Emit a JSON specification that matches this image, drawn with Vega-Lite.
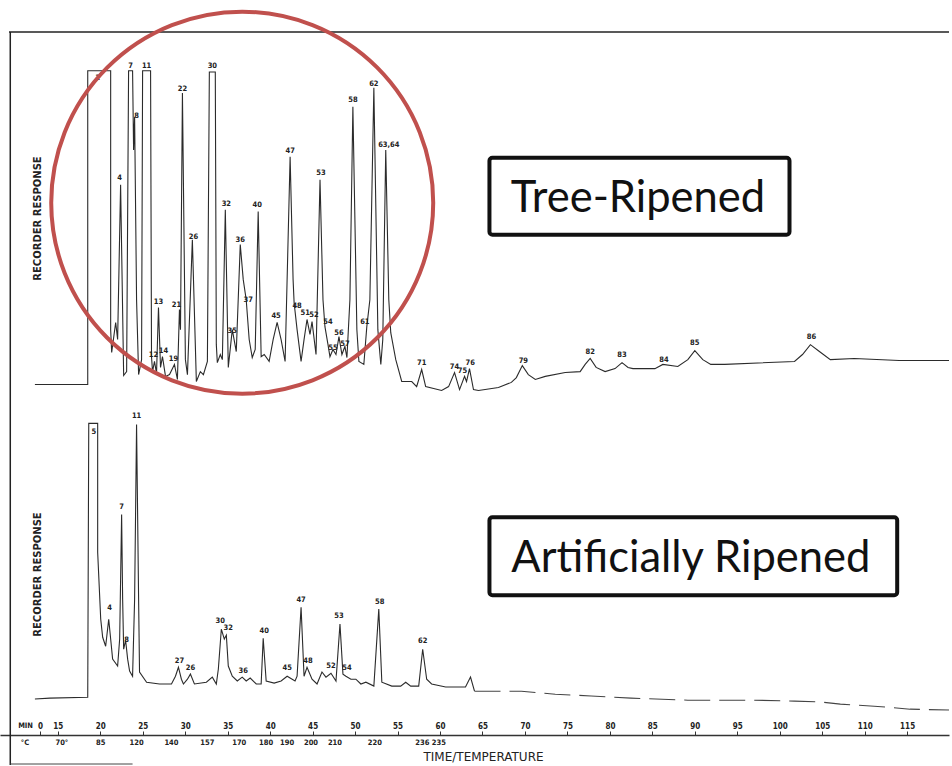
{
  "$schema": "https://vega.github.io/schema/vega-lite/v6.json",
  "width": 952,
  "height": 766,
  "autosize": {"type": "fit", "contains": "padding"},
  "padding": 0,
  "background": "white",
  "config": {
    "view": {"stroke": null},
    "axis": {"grid": false}
  },
  "datasets": {
    "one": [{}],
    "top": [
      {"t": 12.30, "v": 0}, {"t": 18.52, "v": 0}, {"t": 18.52, "v": 104.7}, {"t": 21.22, "v": 104.7},
      {"t": 21.22, "v": 18.3}, {"t": 21.34, "v": 10.7}, {"t": 21.81, "v": 20.7}, {"t": 22.04, "v": 15},
      {"t": 22.39, "v": 66.7}, {"t": 22.75, "v": 3}, {"t": 23.10, "v": 4.3}, {"t": 23.33, "v": 104.7},
      {"t": 23.80, "v": 104.7}, {"t": 23.92, "v": 78.3}, {"t": 24.04, "v": 89.3}, {"t": 24.27, "v": 28.3},
      {"t": 24.51, "v": 3.3}, {"t": 24.86, "v": 8.3}, {"t": 24.98, "v": 104.7}, {"t": 25.92, "v": 104.7},
      {"t": 26.03, "v": 9.3}, {"t": 26.15, "v": 4.3}, {"t": 26.38, "v": 7.7}, {"t": 26.62, "v": 3.7},
      {"t": 26.85, "v": 25.7}, {"t": 27.09, "v": 5.7}, {"t": 27.32, "v": 9.3}, {"t": 27.68, "v": 2.7},
      {"t": 28.15, "v": 3.3}, {"t": 28.73, "v": 6.7}, {"t": 29.08, "v": 1.7}, {"t": 29.32, "v": 25},
      {"t": 29.44, "v": 18.3}, {"t": 29.67, "v": 97.3}, {"t": 30.02, "v": 8.3}, {"t": 30.26, "v": 3.3},
      {"t": 30.84, "v": 48.3}, {"t": 31.31, "v": 1}, {"t": 31.78, "v": 4.3}, {"t": 32.14, "v": 3.3},
      {"t": 32.61, "v": 7.7}, {"t": 32.84, "v": 104.3}, {"t": 33.54, "v": 104.3}, {"t": 33.66, "v": 13.3},
      {"t": 33.78, "v": 7.3}, {"t": 34.13, "v": 10}, {"t": 34.37, "v": 8.3}, {"t": 34.72, "v": 58.3},
      {"t": 35.07, "v": 5.7}, {"t": 35.54, "v": 18.3}, {"t": 36.01, "v": 11}, {"t": 36.48, "v": 46.7},
      {"t": 36.83, "v": 35}, {"t": 37.18, "v": 28.3}, {"t": 37.53, "v": 15}, {"t": 37.89, "v": 9},
      {"t": 38.24, "v": 11.7}, {"t": 38.59, "v": 57.7}, {"t": 38.94, "v": 9.3}, {"t": 39.30, "v": 10},
      {"t": 39.88, "v": 7.7}, {"t": 40.35, "v": 15}, {"t": 40.82, "v": 20.7}, {"t": 41.29, "v": 15},
      {"t": 41.76, "v": 7.7}, {"t": 42.35, "v": 76}, {"t": 42.70, "v": 35}, {"t": 42.82, "v": 27.3},
      {"t": 43.17, "v": 18.3}, {"t": 43.64, "v": 7.7}, {"t": 43.99, "v": 15}, {"t": 44.34, "v": 21.7},
      {"t": 44.69, "v": 16.7}, {"t": 44.93, "v": 21}, {"t": 45.40, "v": 10}, {"t": 45.87, "v": 68.3},
      {"t": 46.22, "v": 28.3}, {"t": 46.45, "v": 19.3}, {"t": 46.81, "v": 13.3}, {"t": 47.04, "v": 9.3},
      {"t": 47.39, "v": 11.7}, {"t": 47.75, "v": 10}, {"t": 48.10, "v": 16}, {"t": 48.45, "v": 10},
      {"t": 48.80, "v": 12.7}, {"t": 49.04, "v": 9}, {"t": 49.39, "v": 28.3}, {"t": 49.74, "v": 92.7},
      {"t": 50.21, "v": 18.3}, {"t": 50.45, "v": 7.7}, {"t": 51.03, "v": 6.7}, {"t": 51.38, "v": 19.3},
      {"t": 51.74, "v": 28.3}, {"t": 52.21, "v": 99}, {"t": 52.68, "v": 18.3}, {"t": 53.03, "v": 6.7},
      {"t": 53.26, "v": 15}, {"t": 53.61, "v": 78.3}, {"t": 53.97, "v": 28.3}, {"t": 54.20, "v": 17.3},
      {"t": 54.79, "v": 8.3}, {"t": 55.49, "v": 1}, {"t": 56.67, "v": 1}, {"t": 57.25, "v": -0.7},
      {"t": 57.84, "v": 5}, {"t": 58.31, "v": -0.7}, {"t": 60.19, "v": -2}, {"t": 61.01, "v": -0.7},
      {"t": 61.71, "v": 4}, {"t": 62.30, "v": -1.7}, {"t": 62.89, "v": 2.7}, {"t": 63.12, "v": 1},
      {"t": 63.47, "v": 5.3}, {"t": 63.94, "v": -1.7}, {"t": 64.53, "v": -2}, {"t": 66.88, "v": -1},
      {"t": 68.40, "v": 0.7}, {"t": 68.99, "v": 2.3}, {"t": 69.69, "v": 6.3}, {"t": 70.40, "v": 3.3},
      {"t": 71.22, "v": 1.7}, {"t": 72.39, "v": 2.7}, {"t": 74.74, "v": 4}, {"t": 76.50, "v": 4.3},
      {"t": 77.09, "v": 6.7}, {"t": 77.68, "v": 8.7}, {"t": 78.38, "v": 5.7}, {"t": 79.44, "v": 4.3},
      {"t": 80.61, "v": 5.3}, {"t": 81.43, "v": 7.3}, {"t": 82.14, "v": 5.7}, {"t": 82.72, "v": 5.3},
      {"t": 85.30, "v": 5.3}, {"t": 86.24, "v": 6.7}, {"t": 88.00, "v": 6}, {"t": 89.18, "v": 8.3},
      {"t": 90.00, "v": 11.3}, {"t": 90.94, "v": 8.3}, {"t": 91.88, "v": 6.7}, {"t": 93.52, "v": 6.7},
      {"t": 101.74, "v": 7.7}, {"t": 102.68, "v": 10}, {"t": 103.61, "v": 13.3}, {"t": 104.67, "v": 11},
      {"t": 105.96, "v": 8.3}, {"t": 108.78, "v": 8.7}, {"t": 114.06, "v": 8}, {"t": 119.93, "v": 8}
    ],
    "topLabels": [
      {"lab": "1", "t": 19.69, "v": 102.3}, {"lab": "4", "t": 22.28, "v": 68.8}, {"lab": "7", "t": 23.57, "v": 106.3},
      {"lab": "8", "t": 24.27, "v": 89.7}, {"lab": "11", "t": 25.45, "v": 106.3}, {"lab": "12", "t": 26.27, "v": 9.7},
      {"lab": "13", "t": 26.85, "v": 27.7}, {"lab": "14", "t": 27.44, "v": 11.3}, {"lab": "19", "t": 28.61, "v": 8.6},
      {"lab": "21", "t": 28.97, "v": 26.6}, {"lab": "22", "t": 29.67, "v": 98.7}, {"lab": "26", "t": 30.96, "v": 49.3},
      {"lab": "30", "t": 33.19, "v": 106.3}, {"lab": "32", "t": 34.84, "v": 60.3}, {"lab": "35", "t": 35.54, "v": 17.7},
      {"lab": "36", "t": 36.48, "v": 48.3}, {"lab": "37", "t": 37.42, "v": 28.3}, {"lab": "40", "t": 38.47, "v": 60},
      {"lab": "45", "t": 40.70, "v": 22.7}, {"lab": "47", "t": 42.35, "v": 78}, {"lab": "48", "t": 43.17, "v": 26.3},
      {"lab": "51", "t": 44.13, "v": 23.7}, {"lab": "52", "t": 45.15, "v": 23.3}, {"lab": "53", "t": 45.99, "v": 70.7},
      {"lab": "54", "t": 46.81, "v": 20.7}, {"lab": "55", "t": 47.39, "v": 12.3}, {"lab": "56", "t": 48.10, "v": 17.3},
      {"lab": "57", "t": 48.80, "v": 13.6}, {"lab": "58", "t": 49.74, "v": 95}, {"lab": "61", "t": 51.15, "v": 21},
      {"lab": "62", "t": 52.21, "v": 100.3}, {"lab": "63,64", "t": 53.97, "v": 80}, {"lab": "71", "t": 57.84, "v": 7.3},
      {"lab": "74", "t": 61.70, "v": 5.7}, {"lab": "75", "t": 62.65, "v": 4.4}, {"lab": "76", "t": 63.55, "v": 7.3},
      {"lab": "79", "t": 69.81, "v": 8}, {"lab": "82", "t": 77.68, "v": 11}, {"lab": "83", "t": 81.43, "v": 9.7},
      {"lab": "84", "t": 86.36, "v": 8.3}, {"lab": "85", "t": 90.00, "v": 13.7}, {"lab": "86", "t": 103.73, "v": 15.7}
    ],
    "bottom": [
      {"t": 12.30, "v": -3.3}, {"t": 14.06, "v": -3}, {"t": 18.52, "v": -2.7}, {"t": 18.64, "v": 88.7},
      {"t": 19.69, "v": 88.7}, {"t": 19.69, "v": 45.7}, {"t": 20.05, "v": 23.3}, {"t": 20.28, "v": 17.3},
      {"t": 20.63, "v": 14.3}, {"t": 20.99, "v": 23.3}, {"t": 21.22, "v": 16.7}, {"t": 21.45, "v": 10},
      {"t": 22.04, "v": 7.7}, {"t": 22.28, "v": 16.7}, {"t": 22.51, "v": 58.3}, {"t": 22.63, "v": 30},
      {"t": 22.75, "v": 13.3}, {"t": 22.98, "v": 16.3}, {"t": 23.22, "v": 10}, {"t": 23.45, "v": 6},
      {"t": 23.80, "v": 4.3}, {"t": 24.04, "v": 30}, {"t": 24.27, "v": 88.3}, {"t": 24.51, "v": 30},
      {"t": 24.62, "v": 5.7}, {"t": 25.45, "v": 2.3}, {"t": 26.97, "v": 1.7}, {"t": 28.38, "v": 1.7},
      {"t": 28.85, "v": 4.3}, {"t": 29.20, "v": 7.3}, {"t": 29.55, "v": 3.3}, {"t": 29.79, "v": 1.7},
      {"t": 30.26, "v": 3.3}, {"t": 30.61, "v": 5}, {"t": 31.08, "v": 1.7}, {"t": 32.49, "v": 2.3},
      {"t": 33.19, "v": 4}, {"t": 33.66, "v": 1.7}, {"t": 33.90, "v": 6.7}, {"t": 34.25, "v": 20},
      {"t": 34.60, "v": 16.7}, {"t": 34.84, "v": 18}, {"t": 35.07, "v": 7.7}, {"t": 35.54, "v": 4.3},
      {"t": 36.13, "v": 2.7}, {"t": 36.71, "v": 4}, {"t": 37.18, "v": 2.7}, {"t": 37.65, "v": 3.7},
      {"t": 38.36, "v": 1.7}, {"t": 38.94, "v": 1.7}, {"t": 39.18, "v": 17}, {"t": 39.53, "v": 2.7},
      {"t": 40.47, "v": 2}, {"t": 41.29, "v": 2.7}, {"t": 42.00, "v": 4.3}, {"t": 42.93, "v": 2.7},
      {"t": 43.17, "v": 4.3}, {"t": 43.64, "v": 27.3}, {"t": 43.99, "v": 4.3}, {"t": 44.34, "v": 7.3},
      {"t": 44.93, "v": 3.3}, {"t": 45.52, "v": 1.7}, {"t": 46.10, "v": 5.7}, {"t": 46.57, "v": 4},
      {"t": 47.16, "v": 5.3}, {"t": 47.75, "v": 2.7}, {"t": 48.22, "v": 21.7}, {"t": 48.57, "v": 5},
      {"t": 48.92, "v": 4.3}, {"t": 49.51, "v": 3.3}, {"t": 50.09, "v": 3.3}, {"t": 50.68, "v": 1.7},
      {"t": 51.27, "v": 2.3}, {"t": 52.21, "v": 1}, {"t": 52.79, "v": 26.7}, {"t": 53.15, "v": 2.3},
      {"t": 54.32, "v": 1}, {"t": 55.37, "v": 1}, {"t": 55.96, "v": 2.3}, {"t": 56.55, "v": 1},
      {"t": 57.49, "v": 1}, {"t": 57.96, "v": 13.3}, {"t": 58.43, "v": 3.3}, {"t": 59.01, "v": 1.7},
      {"t": 60.66, "v": 0.7}, {"t": 63.00, "v": 0.7}, {"t": 63.59, "v": 4}, {"t": 64.06, "v": -0.7}
    ],
    "bottomTail": [
      {"t": 64.06, "v": -0.7}, {"t": 69.58, "v": -0.7}, {"t": 73.57, "v": -1.7}, {"t": 77.79, "v": -2.3},
      {"t": 82.49, "v": -3}, {"t": 89.18, "v": -3.7}, {"t": 97.04, "v": -3.7}, {"t": 101.74, "v": -4},
      {"t": 104.79, "v": -4.3}, {"t": 107.14, "v": -5}, {"t": 111.13, "v": -5.7}, {"t": 115.35, "v": -6.7},
      {"t": 119.93, "v": -7}
    ],
    "bottomLabels": [
      {"lab": "5", "t": 19.23, "v": 85.7}, {"lab": "4", "t": 21.10, "v": 27}, {"lab": "7", "t": 22.51, "v": 60.9},
      {"lab": "8", "t": 23.10, "v": 16.3}, {"lab": "11", "t": 24.27, "v": 91}, {"lab": "27", "t": 29.32, "v": 9.5},
      {"lab": "26", "t": 30.61, "v": 7}, {"lab": "30", "t": 34.13, "v": 22.7}, {"lab": "32", "t": 35.07, "v": 20.3},
      {"lab": "36", "t": 36.83, "v": 6}, {"lab": "40", "t": 39.30, "v": 19.3}, {"lab": "45", "t": 42.00, "v": 7},
      {"lab": "47", "t": 43.64, "v": 29.7}, {"lab": "48", "t": 44.46, "v": 9.5}, {"lab": "52", "t": 47.16, "v": 7.7},
      {"lab": "53", "t": 48.10, "v": 24.3}, {"lab": "54", "t": 49.04, "v": 7}, {"lab": "58", "t": 52.91, "v": 29},
      {"lab": "62", "t": 57.96, "v": 16}
    ],
    "temps": [
      {"lab": "70°", "t": 15.47}, {"lab": "85", "t": 20.05}, {"lab": "120", "t": 24.27}, {"lab": "140", "t": 28.38},
      {"lab": "157", "t": 32.61}, {"lab": "170", "t": 36.36}, {"lab": "180", "t": 39.53}, {"lab": "190", "t": 42.00},
      {"lab": "200", "t": 44.81}, {"lab": "210", "t": 47.63}, {"lab": "220", "t": 52.32}, {"lab": "236 235", "t": 58.89}
    ]
  },
  "resolve": {"scale": {"y": "independent"}, "axis": {"y": "independent"}},
  "layer": [
    {
      "data": {"name": "top"},
      "mark": {"type": "line", "color": "#2b2b2b", "strokeWidth": 1.1},
      "encoding": {
        "x": {
          "field": "t", "type": "quantitative",
          "scale": {"domain": [8.19, 119.93], "nice": false, "zero": false},
          "axis": {
            "orient": "top", "offset": -735, "title": null,
            "values": [12.89, 15, 20, 25, 30, 35, 40, 45, 50, 55, 60, 65, 70, 75, 80, 85, 90, 95, 100, 105, 110, 115],
            "labelExpr": "datum.value < 14 ? '0' : datum.label",
            "format": "d",
            "labelFont": "DejaVu Sans Condensed", "labelFontWeight": "bold", "labelFontSize": 8,
            "labelColor": "#222", "labelPadding": 1, "labelOverlap": false, "labelFlush": false,
            "tickSize": 4, "tickColor": "#333", "tickWidth": 1,
            "domainColor": "#333", "domainWidth": 1.3, "grid": false
          }
        },
        "y": {
          "field": "v", "type": "quantitative",
          "scale": {"domain": [-127, 128.333], "nice": false, "zero": false},
          "axis": {
            "orient": "left", "title": "RECORDER RESPONSE", "offset": 0,
            "domain": false, "ticks": false, "labels": false, "grid": false,
            "titleX": 37, "titleY": 218, "titleAngle": 270, "titleAlign": "center", "titleBaseline": "middle",
            "titleFont": "DejaVu Sans", "titleFontSize": 10, "titleFontWeight": "bold", "titleColor": "#222"
          }
        }
      }
    },
    {
      "data": {"name": "topLabels"},
      "mark": {"type": "text", "font": "DejaVu Sans Condensed", "fontWeight": "bold", "fontSize": 7.5, "color": "#222", "baseline": "middle", "align": "center"},
      "encoding": {
        "x": {"field": "t", "type": "quantitative", "scale": {"domain": [8.19, 119.93], "nice": false, "zero": false}},
        "y": {"field": "v", "type": "quantitative", "scale": {"domain": [-127, 128.333], "nice": false, "zero": false}, "axis": null},
        "text": {"field": "lab"}
      }
    },
    {
      "data": {"name": "one"},
      "mark": {"type": "rule", "color": "#222", "strokeWidth": 1.5},
      "encoding": {
        "x": {"datum": 9.25, "type": "quantitative", "scale": {"domain": [8.19, 119.93], "nice": false, "zero": false}},
        "x2": {"datum": 119.93},
        "y": {"datum": 117.67, "type": "quantitative", "scale": {"domain": [-127, 128.333], "nice": false, "zero": false}, "axis": null}
      }
    },
    {
      "data": {"name": "one"},
      "mark": {"type": "rule", "color": "#222", "strokeWidth": 1.5},
      "encoding": {
        "x": {"datum": 9.4, "type": "quantitative", "scale": {"domain": [8.19, 119.93], "nice": false, "zero": false}},
        "y": {"datum": 117.67, "type": "quantitative", "scale": {"domain": [-127, 128.333], "nice": false, "zero": false}, "axis": null},
        "y2": {"datum": -127}
      }
    },
    {
      "data": {"name": "one"},
      "mark": {"type": "rule", "color": "#444", "strokeWidth": 1},
      "encoding": {
        "x": {"datum": 9.4, "type": "quantitative", "scale": {"domain": [8.19, 119.93], "nice": false, "zero": false}},
        "x2": {"datum": 23.8},
        "y": {"datum": -126.67, "type": "quantitative", "scale": {"domain": [-127, 128.333], "nice": false, "zero": false}, "axis": null}
      }
    },
    {
      "data": {"name": "one"},
      "mark": {"type": "point", "shape": "circle", "filled": false, "stroke": "#c0504d", "strokeWidth": 4, "size": 145924, "opacity": 1},
      "encoding": {
        "x": {"datum": 36.71, "type": "quantitative", "scale": {"domain": [8.19, 119.93], "nice": false, "zero": false}},
        "y": {"datum": 60.67, "type": "quantitative", "scale": {"domain": [-127, 128.333], "nice": false, "zero": false}, "axis": null}
      }
    },
    {
      "data": {"name": "one"},
      "mark": {"type": "rect", "fill": "white", "stroke": "#111", "strokeWidth": 4, "cornerRadius": 3},
      "encoding": {
        "x": {"datum": 65.82, "type": "quantitative", "scale": {"domain": [8.19, 119.93], "nice": false, "zero": false}},
        "x2": {"datum": 101.15},
        "y": {"datum": 75.67, "type": "quantitative", "scale": {"domain": [-127, 128.333], "nice": false, "zero": false}, "axis": null},
        "y2": {"datum": 50}
      }
    },
    {
      "data": {"name": "one"},
      "mark": {"type": "text", "text": "Tree-Ripened", "font": "Lato", "fontSize": 43.5, "color": "#111", "align": "center", "baseline": "alphabetic"},
      "encoding": {
        "x": {"datum": 83.31, "type": "quantitative", "scale": {"domain": [8.19, 119.93], "nice": false, "zero": false}},
        "y": {"datum": 57.67, "type": "quantitative", "scale": {"domain": [-127, 128.333], "nice": false, "zero": false}, "axis": null}
      }
    },
    {
      "data": {"name": "bottom"},
      "mark": {"type": "line", "color": "#2b2b2b", "strokeWidth": 1.1},
      "encoding": {
        "x": {"field": "t", "type": "quantitative", "scale": {"domain": [8.19, 119.93], "nice": false, "zero": false}},
        "y": {
          "field": "v", "type": "quantitative",
          "scale": {"domain": [-25.333, 230], "nice": false, "zero": false},
          "axis": {
            "orient": "left", "title": "RECORDER RESPONSE", "offset": 0,
            "domain": false, "ticks": false, "labels": false, "grid": false,
            "titleX": 37, "titleY": 574, "titleAngle": 270, "titleAlign": "center", "titleBaseline": "middle",
            "titleFont": "DejaVu Sans", "titleFontSize": 10, "titleFontWeight": "bold", "titleColor": "#222"
          }
        }
      }
    },
    {
      "data": {"name": "bottomTail"},
      "mark": {"type": "line", "color": "#444", "strokeWidth": 1.1, "strokeDash": [26, 9]},
      "encoding": {
        "x": {"field": "t", "type": "quantitative", "scale": {"domain": [8.19, 119.93], "nice": false, "zero": false}},
        "y": {"field": "v", "type": "quantitative", "scale": {"domain": [-25.333, 230], "nice": false, "zero": false}, "axis": null}
      }
    },
    {
      "data": {"name": "bottomLabels"},
      "mark": {"type": "text", "font": "DejaVu Sans Condensed", "fontWeight": "bold", "fontSize": 7.5, "color": "#222", "baseline": "middle", "align": "center"},
      "encoding": {
        "x": {"field": "t", "type": "quantitative", "scale": {"domain": [8.19, 119.93], "nice": false, "zero": false}},
        "y": {"field": "v", "type": "quantitative", "scale": {"domain": [-25.333, 230], "nice": false, "zero": false}, "axis": null},
        "text": {"field": "lab"}
      }
    },
    {
      "data": {"name": "temps"},
      "mark": {"type": "text", "font": "DejaVu Sans Condensed", "fontWeight": "bold", "fontSize": 7.5, "color": "#222", "baseline": "middle", "align": "center"},
      "encoding": {
        "x": {"field": "t", "type": "quantitative", "scale": {"domain": [8.19, 119.93], "nice": false, "zero": false}},
        "y": {"datum": -18, "type": "quantitative", "scale": {"domain": [-25.333, 230], "nice": false, "zero": false}, "axis": null},
        "text": {"field": "lab"}
      }
    },
    {
      "data": {"name": "one"},
      "mark": {"type": "text", "text": "MIN", "font": "DejaVu Sans Condensed", "fontWeight": "bold", "fontSize": 7.5, "color": "#222", "baseline": "middle", "align": "center"},
      "encoding": {
        "x": {"datum": 11.2, "type": "quantitative", "scale": {"domain": [8.19, 119.93], "nice": false, "zero": false}},
        "y": {"datum": -12.33, "type": "quantitative", "scale": {"domain": [-25.333, 230], "nice": false, "zero": false}, "axis": null}
      }
    },
    {
      "data": {"name": "one"},
      "mark": {"type": "text", "text": "°C", "font": "DejaVu Sans Condensed", "fontWeight": "bold", "fontSize": 7.5, "color": "#222", "baseline": "middle", "align": "center"},
      "encoding": {
        "x": {"datum": 11.13, "type": "quantitative", "scale": {"domain": [8.19, 119.93], "nice": false, "zero": false}},
        "y": {"datum": -18, "type": "quantitative", "scale": {"domain": [-25.333, 230], "nice": false, "zero": false}, "axis": null}
      }
    },
    {
      "data": {"name": "one"},
      "mark": {"type": "text", "text": "TIME/TEMPERATURE", "font": "DejaVu Sans", "fontSize": 12, "color": "#222", "baseline": "middle", "align": "center"},
      "encoding": {
        "x": {"datum": 65.12, "type": "quantitative", "scale": {"domain": [8.19, 119.93], "nice": false, "zero": false}},
        "y": {"datum": -22.67, "type": "quantitative", "scale": {"domain": [-25.333, 230], "nice": false, "zero": false}, "axis": null}
      }
    },
    {
      "data": {"name": "one"},
      "mark": {"type": "rect", "fill": "white", "stroke": "#111", "strokeWidth": 4, "cornerRadius": 3},
      "encoding": {
        "x": {"datum": 65.82, "type": "quantitative", "scale": {"domain": [8.19, 119.93], "nice": false, "zero": false}},
        "x2": {"datum": 113.83},
        "y": {"datum": 57.33, "type": "quantitative", "scale": {"domain": [-25.333, 230], "nice": false, "zero": false}, "axis": null},
        "y2": {"datum": 31.33}
      }
    },
    {
      "data": {"name": "one"},
      "mark": {"type": "text", "text": "Artificially Ripened", "font": "Lato", "fontSize": 43.5, "color": "#111", "align": "center", "baseline": "alphabetic"},
      "encoding": {
        "x": {"datum": 89.53, "type": "quantitative", "scale": {"domain": [8.19, 119.93], "nice": false, "zero": false}},
        "y": {"datum": 39, "type": "quantitative", "scale": {"domain": [-25.333, 230], "nice": false, "zero": false}, "axis": null}
      }
    }
  ]
}
